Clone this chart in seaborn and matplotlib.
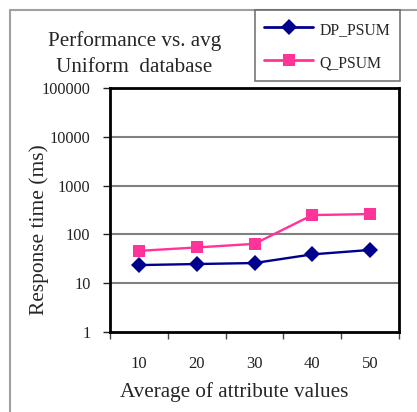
import pandas as pd
import numpy as np
import matplotlib
matplotlib.use("Agg")
import matplotlib.pyplot as plt
import seaborn as sns
from matplotlib.lines import Line2D

# data
avg_values = [10, 20, 30, 40, 50]
dp_psum = [23.5, 24.7, 25.9, 39, 48]
q_psum = [46, 54, 64, 249, 261]
y_ticks = [1, 10, 100, 1000, 10000, 100000]
y_tick_labels = ["1", "10", "100", "1000", "10000", "100000"]

df = pd.DataFrame({
    "avg": avg_values * 2,
    "time": dp_psum + q_psum,
    "method": ["DP_PSUM"] * 5 + ["Q_PSUM"] * 5,
})

sns.set_theme(style="white")
plt.rcParams["font.family"] = ["Liberation Serif", "DejaVu Serif"]

fig = plt.figure(figsize=(4.17, 4.12), dpi=100)
fig.patch.set_linewidth(0)
ax = fig.add_axes([110 / 417, 1 - 332 / 412, 289 / 417, 244 / 412])

palette = {"DP_PSUM": "#00008F", "Q_PSUM": "#FF3399"}
markers = {"DP_PSUM": "D", "Q_PSUM": "s"}
sns.lineplot(data=df, x="avg", y="time", hue="method", style="method",
             palette=palette, markers=markers, dashes=False, ax=ax,
             linewidth=1.7, markersize=8, markeredgewidth=0, legend=False)

ax.set_yscale("log")
ax.set_ylim(1, 100000)
ax.set_xlim(5, 55)
ax.set_yticks(y_ticks)
ax.set_yticklabels(y_tick_labels)
ax.minorticks_off()
ax.set_xticks(avg_values)
ax.set_xticklabels([str(v) for v in avg_values])
ax.set_xticks([5, 15, 25, 35, 45, 55], minor=True)
ax.tick_params(axis="x", which="major", length=0, pad=17, labelsize=12, colors="#222222")
ax.tick_params(axis="x", which="minor", length=5, width=1, direction="out", bottom=True, color="#444444")
ax.tick_params(axis="y", which="major", length=5, width=1, direction="out", left=True,
               labelsize=11.7, colors="#222222", pad=9)
ax.tick_params(axis="y", which="minor", left=False)

for yv in y_ticks[1:-1]:
    ax.axhline(yv, color="#808080", lw=1.5, zorder=0)

for s in ax.spines.values():
    s.set_color("black")
    s.set_linewidth(2)

ax.set_xlabel("Average of attribute values", fontsize=15.2, labelpad=2)
ax.xaxis.set_label_coords((234 - 110) / 289, -0.205)
ax.set_ylabel("Response time (ms)", fontsize=15.4)
ax.yaxis.set_label_coords(-0.21, (332 - 230) / 244)

fig.text(135 / 417, 1 - 41 / 412, "Performance vs. avg", ha="center", va="center", fontsize=15.2)
fig.text(134 / 417, 1 - 68 / 412, "Uniform  database", ha="center", va="center", fontsize=15.2)

# legend
handles = [Line2D([], [], color=palette[m], marker=markers[m], lw=2, markersize=8, markeredgewidth=0)
           for m in ["DP_PSUM", "Q_PSUM"]]
leg = fig.legend(handles, ["DP_PSUM", "Q_PSUM"], loc="upper left",
                 bbox_to_anchor=(255 / 417, 1 - 10 / 412), fontsize=11.3,
                 frameon=True, fancybox=False, edgecolor="#555555",
                 handlelength=3.1, handleheight=1.5, handletextpad=0.4, labelspacing=0.9,
                 borderpad=0.6, borderaxespad=0)
leg.get_frame().set_linewidth(1.2)

# outer border like the source figure (top and left edges only)
fig.add_artist(Line2D([10 / 417, 1.0], [1 - 10 / 412, 1 - 10 / 412], transform=fig.transFigure,
                      color="#a0a0a0", lw=1.5, zorder=0))
fig.add_artist(Line2D([10 / 417, 10 / 417], [0, 1 - 10 / 412], transform=fig.transFigure,
                      color="#a0a0a0", lw=1.5, zorder=0))

fig.savefig("out.png", dpi=100)
